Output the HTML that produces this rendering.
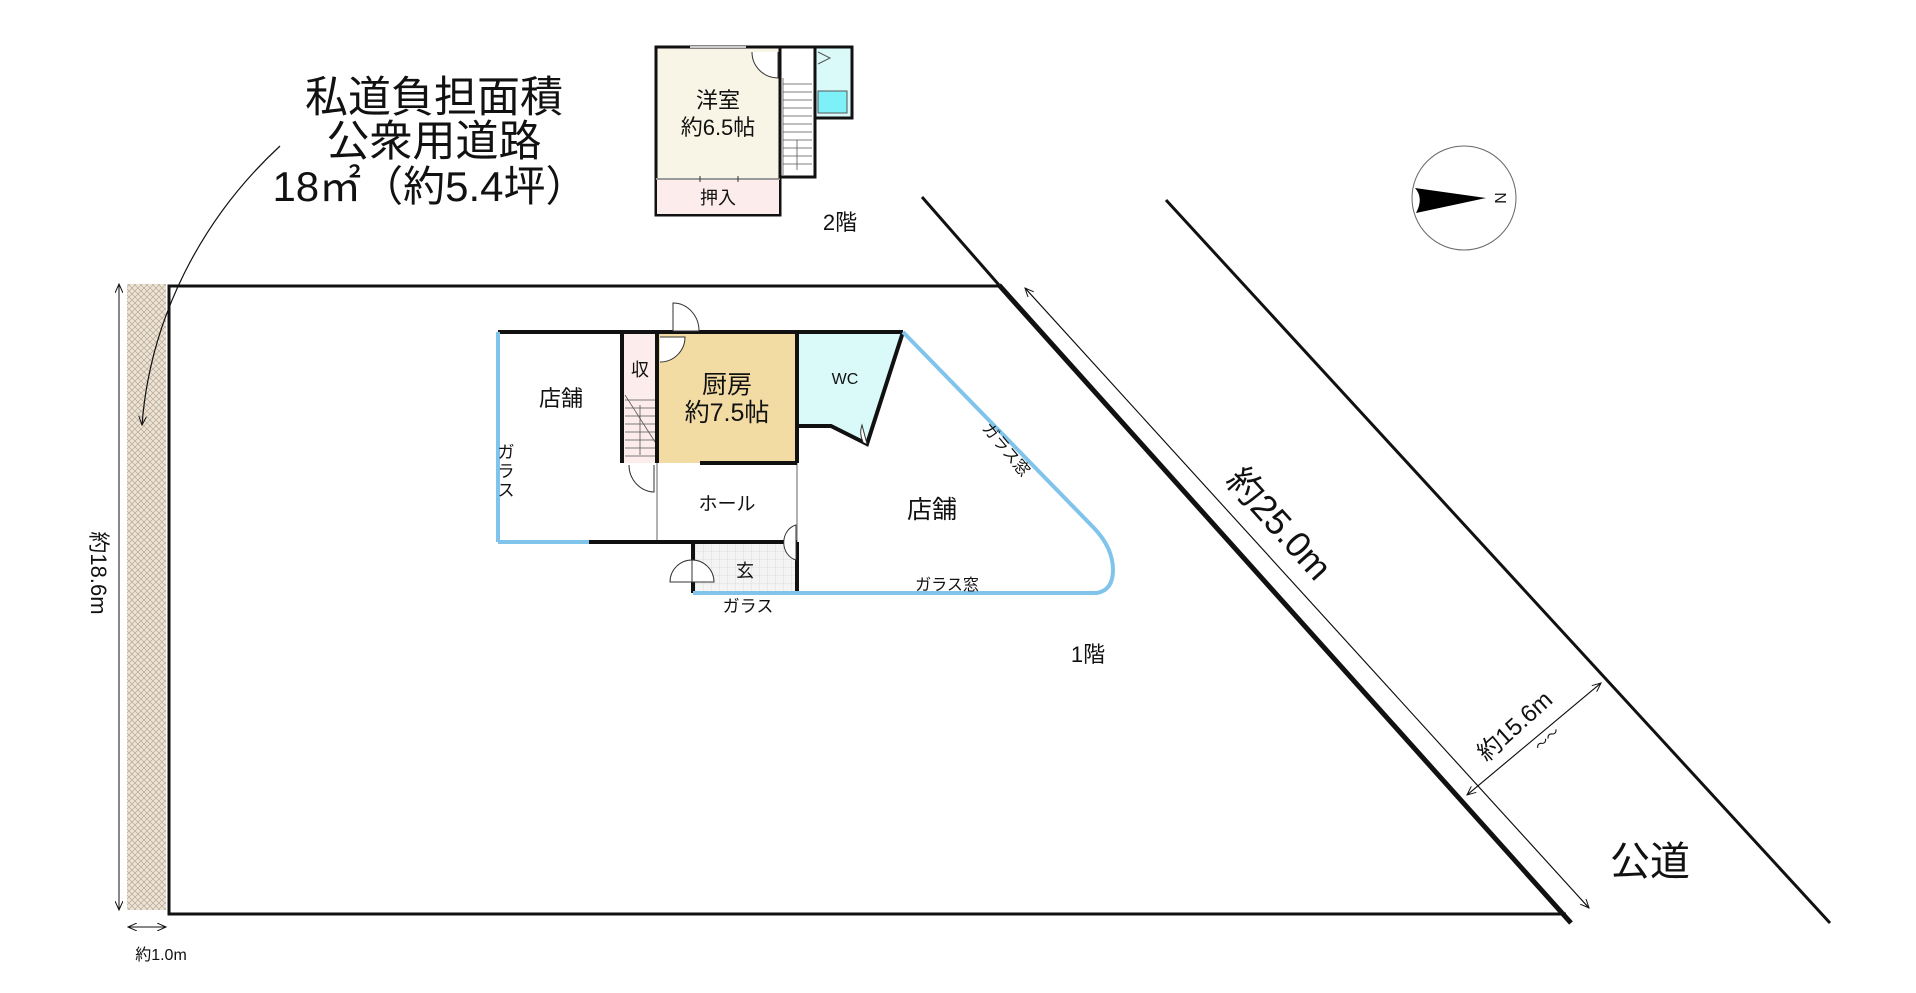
<!DOCTYPE html>
<html><head><meta charset="utf-8"><style>
html,body{margin:0;padding:0;background:#fff;}
svg{display:block;}
text{font-family:"Liberation Sans","Noto Sans CJK JP",sans-serif;fill:#111;}
</style></head><body>
<svg width="1916" height="993" viewBox="0 0 1916 993" xmlns="http://www.w3.org/2000/svg">
<defs>
<pattern id="hatch" width="6" height="6" patternUnits="userSpaceOnUse">
<rect width="6" height="6" fill="#ece4d8"/>
<path d="M0 0L6 6M6 0L0 6" stroke="#b8a890" stroke-width="0.7"/>
</pattern>
<pattern id="grid" width="8" height="8" patternUnits="userSpaceOnUse">
<rect width="8" height="8" fill="#f4f4f4"/>
<path d="M8 0V8H0" fill="none" stroke="#d8d8d8" stroke-width="0.8"/>
</pattern>
<marker id="ah" markerWidth="10" markerHeight="8" refX="9" refY="4" orient="auto" markerUnits="userSpaceOnUse">
<path d="M0 0L9 4L0 8" fill="none" stroke="#111" stroke-width="1"/>
</marker>
</defs>

<!-- title text -->
<text x="434" y="112" font-size="43" text-anchor="middle">私道負担面積</text>
<text x="434" y="156" font-size="43" text-anchor="middle">公衆用道路</text>
<text x="430" y="201" font-size="42" text-anchor="middle">18㎡（約5.4坪）</text>

<!-- 2F -->
<rect x="656" y="47" width="124" height="168" fill="#f8f4e6" stroke="#111" stroke-width="3"/>
<rect x="657" y="179" width="122" height="35" fill="#fcecec"/>
<line x1="656" y1="179" x2="780" y2="179" stroke="#999" stroke-width="2"/>
<line x1="700" y1="176" x2="700" y2="182" stroke="#333"/><line x1="738" y1="176" x2="738" y2="182" stroke="#333"/>
<line x1="690" y1="47" x2="746" y2="47" stroke="#ccc" stroke-width="2"/>
<rect x="780" y="47" width="35" height="130" fill="#fff" stroke="#111" stroke-width="3"/>
<g stroke="#555" stroke-width="0.8">
<line x1="783" y1="84" x2="812" y2="84"/><line x1="783" y1="92" x2="812" y2="92"/><line x1="783" y1="100" x2="812" y2="100"/><line x1="783" y1="108" x2="812" y2="108"/><line x1="783" y1="116" x2="812" y2="116"/><line x1="783" y1="124" x2="812" y2="124"/><line x1="783" y1="132" x2="812" y2="132"/><line x1="783" y1="140" x2="812" y2="140"/><line x1="783" y1="148" x2="812" y2="148"/><line x1="783" y1="156" x2="812" y2="156"/><line x1="783" y1="164" x2="812" y2="164"/>
<line x1="797" y1="140" x2="797" y2="170"/>
<line x1="783" y1="78" x2="783" y2="175"/>
</g>
<rect x="815" y="47" width="37" height="71" fill="#dafafa" stroke="#111" stroke-width="3"/>
<rect x="818" y="91" width="29" height="22" fill="#7ef0f8" stroke="#555" stroke-width="1"/>
<path d="M818 52 L830 58 L818 64" fill="none" stroke="#555"/>
<path d="M752 52 A26 26 0 0 0 778 78 V52" fill="#fff" stroke="#333" stroke-width="1"/>
<text x="718" y="108" font-size="22" text-anchor="middle">洋室</text>
<text x="718" y="135" font-size="22" text-anchor="middle">約6.5帖</text>
<text x="718" y="204" font-size="18" text-anchor="middle">押入</text>
<text x="840" y="230" font-size="22" text-anchor="middle">2階</text>

<!-- compass -->
<circle cx="1464" cy="198" r="52" fill="#fff" stroke="#666" stroke-width="1"/>
<path d="M1415 188 Q1424 198 1416 213 L1486 198 Z" fill="#000"/>
<text x="1500" y="198" font-size="16" font-family="Liberation Serif" text-anchor="middle" transform="rotate(90 1500 198)" dy="5">N</text>

<!-- lot -->
<rect x="127" y="284" width="39" height="626" fill="url(#hatch)"/>
<path d="M280 146 C200 220 150 320 142 425" fill="none" stroke="#111" stroke-width="1.2" marker-end="url(#ah)"/>
<line x1="119" y1="284" x2="119" y2="910" stroke="#111" stroke-width="1" marker-end="url(#ah)"/>
<line x1="119" y1="910" x2="119" y2="284" stroke="#111" stroke-width="1" marker-end="url(#ah)"/>
<text x="99" y="573" font-size="22" text-anchor="middle" transform="rotate(90 99 573)" dy="8">約18.6m</text>
<line x1="128" y1="927" x2="166" y2="927" stroke="#111" marker-end="url(#ah)"/>
<line x1="166" y1="927" x2="128" y2="927" stroke="#111" marker-end="url(#ah)"/>
<text x="161" y="960" font-size="16" text-anchor="middle">約1.0m</text>
<polyline points="999,286 169,286 169,914 1566,914" fill="none" stroke="#111" stroke-width="3"/>
<line x1="922" y1="197" x2="999" y2="285" stroke="#111" stroke-width="3"/>
<line x1="999" y1="285" x2="1571" y2="923" stroke="#111" stroke-width="5"/>
<line x1="1166" y1="200" x2="1830" y2="923" stroke="#111" stroke-width="3"/>
<line x1="1589" y1="908" x2="1025" y2="288" stroke="#111" stroke-width="1" marker-end="url(#ah)"/>
<line x1="1025" y1="288" x2="1589" y2="908" stroke="#111" stroke-width="1" marker-end="url(#ah)"/>
<text x="1279" y="524" font-size="36" text-anchor="middle" transform="rotate(48 1279 524)" dy="12">約25.0m</text>
<line x1="1601" y1="683" x2="1467" y2="795" stroke="#111" stroke-width="1" marker-end="url(#ah)"/>
<line x1="1467" y1="795" x2="1601" y2="683" stroke="#111" stroke-width="1" marker-end="url(#ah)"/>
<text x="1523" y="735" font-size="24" text-anchor="middle" transform="rotate(-42 1523 735)" dy="-4">約15.6m</text>
<text x="1540" y="752" font-size="14" transform="rotate(-42 1540 752)">〜〜</text>
<text x="1650" y="875" font-size="40" text-anchor="middle">公道</text>
<text x="1088" y="662" font-size="22" text-anchor="middle">1階</text>

<!-- 1F building -->
<rect x="657" y="332" width="140" height="131" fill="#f2dca4"/>
<polygon points="797,332 903,332 867,444 831,426 797,426" fill="#dafafa"/>
<rect x="622" y="332" width="35" height="131" fill="#fcecec"/>
<rect x="693" y="542" width="104" height="51" fill="url(#grid)"/>
<g stroke="#555" stroke-width="0.8">
<line x1="625" y1="395" x2="657" y2="445"/>
<line x1="625" y1="400" x2="657" y2="400"/><line x1="625" y1="408" x2="657" y2="408"/><line x1="625" y1="416" x2="657" y2="416"/><line x1="625" y1="424" x2="657" y2="424"/><line x1="625" y1="432" x2="657" y2="432"/><line x1="625" y1="440" x2="657" y2="440"/><line x1="625" y1="448" x2="657" y2="448"/><line x1="625" y1="456" x2="657" y2="456"/>
<line x1="640" y1="405" x2="640" y2="455"/>
</g>
<line x1="657" y1="463" x2="657" y2="542" stroke="#999" stroke-width="1.5"/>
<line x1="797" y1="463" x2="797" y2="542" stroke="#999" stroke-width="1.5"/>
<g stroke="#111" stroke-width="4" fill="none">
<line x1="498" y1="332" x2="903" y2="332"/>
<line x1="622" y1="332" x2="622" y2="463"/>
<line x1="657" y1="332" x2="657" y2="463"/>
<line x1="797" y1="332" x2="797" y2="463"/>
<polyline points="903,332 867,444 831,426 797,426"/>
<line x1="700" y1="463" x2="797" y2="463"/>
<line x1="589" y1="542" x2="797" y2="542"/>
<line x1="797" y1="542" x2="797" y2="593"/>
<line x1="693" y1="542" x2="693" y2="593"/>
</g>
<g stroke="#80c4ec" stroke-width="4" fill="none">
<line x1="498" y1="332" x2="498" y2="542"/>
<line x1="498" y1="542" x2="589" y2="542"/>
<path d="M693 593 H1097 Q1113 590 1113 570 Q1113 548 1094 528 L903 332"/>
</g>
<g stroke="#333" stroke-width="1" fill="#fff">
<path d="M673 331 V303 A26 28 0 0 1 699 331 Z"/>
<path d="M660 337 H685 A25 25 0 0 1 660 362"/>
<path d="M654 465 V492 A26 27 0 0 1 629 465"/>
<path d="M863 442 A22 22 0 0 1 862 425 L867 444"/>
<path d="M796 525 A16 18 0 0 0 796 560 Z"/>
<path d="M670 582 A22 22 0 0 1 714 582 Z"/>
<line x1="692" y1="560" x2="692" y2="582"/>
</g>
<text x="561" y="406" font-size="22" text-anchor="middle">店舗</text>
<text x="640" y="376" font-size="18" text-anchor="middle">収</text>
<text x="727" y="393" font-size="25" text-anchor="middle">厨房</text>
<text x="727" y="421" font-size="25" text-anchor="middle">約7.5帖</text>
<text x="845" y="384" font-size="16" text-anchor="middle">WC</text>
<text x="727" y="510" font-size="19" text-anchor="middle">ホール</text>
<text x="932" y="518" font-size="25" text-anchor="middle">店舗</text>
<text x="745" y="577" font-size="18" text-anchor="middle">玄</text>
<text x="748" y="612" font-size="17" text-anchor="middle">ガラス</text>
<text x="947" y="590" font-size="16" text-anchor="middle">ガラス窓</text>
<text x="1002" y="453" font-size="16" text-anchor="middle" transform="rotate(50 1002 453)">ガラス窓</text>
<text x="506" y="458" font-size="17" text-anchor="middle">ガ</text>
<text x="506" y="477" font-size="17" text-anchor="middle">ラ</text>
<text x="506" y="496" font-size="17" text-anchor="middle">ス</text>
</svg>
</body></html>
